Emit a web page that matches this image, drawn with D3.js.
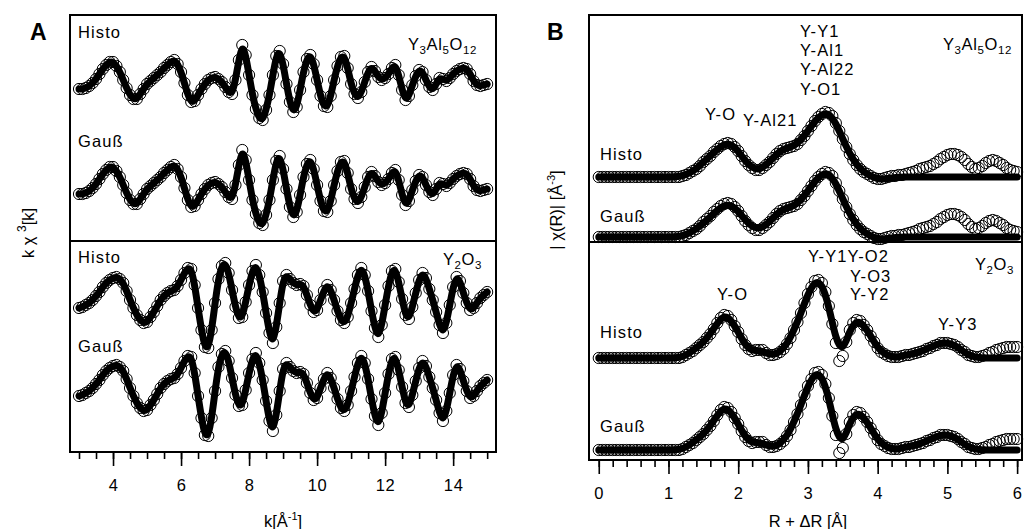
<!DOCTYPE html>
<html>
<head>
<meta charset="utf-8">
<script src="https://cdn.jsdelivr.net/npm/d3@7"></script>
<style>
body{margin:0;background:#fff}
text{font-family:"Liberation Sans",Arial,sans-serif;fill:#000}
</style>
</head>
<body>
<script>

// ---- panel A: k^3 chi(k), one data set per sample (Histo and Gauss fit the same data)
var kStart = 3, kStep = 0.1;
var yagK = [0.1,0.1,0.2,0.4,0.7,1.1,1.6,2.1,2.5,2.8,2.8,2.4,1.8,1.0,0.2,-0.5,-0.9,-0.9,-0.4,0.1,
  0.6,0.9,1.2,1.5,1.8,2.2,2.5,2.8,3.0,2.6,1.8,0.7,-0.5,-1.2,-1.1,-0.5,0.1,0.6,1.0,1.2,
  1.3,1.1,0.8,0.3,-0.2,-0.4,1.0,3.0,4.5,3.5,1.5,-0.5,-1.9,-2.8,-3.0,-2.0,-0.5,1.5,3.4,3.9,
  2.6,0.6,-1.2,-2.2,-1.7,0.0,1.8,3.1,3.5,2.6,1.0,-0.6,-1.6,-1.7,-0.6,1.0,2.4,3.3,3.4,2.2,
  0.6,-0.4,-0.8,-0.2,0.8,1.8,2.3,1.9,1.3,1.0,1.2,1.6,2.2,2.5,1.5,0.0,-1.0,-0.6,0.5,1.4,
  2.0,1.8,1.0,0.3,0.0,0.6,1.2,1.1,0.9,1.2,1.6,1.9,2.1,2.2,2.1,1.6,0.9,0.5,0.4,0.5,0.6];
var y2o3K = [-0.3,-0.2,0.0,0.2,0.5,0.9,1.3,1.8,2.2,2.5,2.7,2.8,2.6,2.2,1.4,0.5,-0.3,-1.0,-1.5,-1.8,
  -1.7,-1.2,-0.7,-0.1,0.5,0.9,1.2,1.4,1.5,1.9,2.5,3.2,3.7,3.6,2.0,-0.3,-2.5,-4.2,-4.3,-2.5,
  0.2,2.6,3.9,4.2,3.2,1.5,-0.2,-1.3,-1.2,0.3,2.0,3.4,4.0,3.0,1.3,-0.8,-2.8,-3.8,-2.2,0.2,
  2.4,3.0,2.6,2.2,2.0,2.1,1.9,1.0,0.0,-0.7,-0.5,0.5,1.4,2.0,1.5,0.5,-0.6,-1.5,-1.8,-1.2,
  0.2,1.6,3.0,3.7,3.0,1.4,-0.6,-2.3,-3.2,-2.0,0.0,1.9,3.4,3.6,2.3,0.6,-1.0,-1.4,-0.2,1.2,
  2.5,3.2,2.7,1.6,0.5,-0.7,-2.0,-2.8,-1.8,0.0,1.8,2.8,2.4,1.2,0.2,-0.5,-0.3,0.2,0.7,1.0,1.3];
var kLabels = ["Histo","Gauß","Histo","Gauß"];
var kOffsets = [36.2, 25.7, 14.7, 5.9];
var kTicks = [4,6,8,10,12,14];

// ---- panel B: |chi(R)|, measured data and the two fits
var rStep = 0.05;
var yagR = [0,0,0,0,0,0,0,0,0,0,0,0,0,0,0,0,0,0,0,0,0,0,0,
  0.0,0.1,0.2,0.4,0.6,0.8,1.1,1.5,1.8,2.1,2.5,2.8,3.1,3.3,3.4,3.3,3.0,2.6,2.1,1.6,1.2,0.9,0.7,0.7,0.9,
  1.2,1.5,1.9,2.3,2.6,2.8,2.9,3.0,3.1,3.3,3.7,4.1,4.6,5.1,5.6,6.0,6.3,6.5,6.4,6.1,5.4,4.6,3.8,3.0,2.3,
  1.7,1.2,0.8,0.5,0.3,0.1,-0.1,-0.2,-0.2,-0.1,0.0,0.1,0.1,0.2,0.2,0.3,0.4,0.5,0.6,0.8,0.9,1.0,1.1,1.3,
  1.5,1.8,2.0,2.2,2.3,2.3,2.2,2.0,1.7,1.3,1.0,0.8,0.9,1.1,1.4,1.6,1.7,1.6,1.4,1.2,0.9,0.7,0.6,0.5];
var y2o3R = [0,0,0,0,0,0,0,0,0,0,0,0,0,0,0,0,0,0,0,0,0,0,0,
  0.0,0.1,0.3,0.5,0.7,1.0,1.3,1.6,2.0,2.4,2.9,3.5,4.0,4.3,4.2,3.8,3.2,2.6,1.9,1.3,0.9,0.7,0.8,0.8,0.8,
  0.5,0.3,0.3,0.4,0.6,0.9,1.4,2.0,2.8,3.6,4.5,5.5,6.4,7.1,7.7,7.8,7.5,6.6,5.2,3.4,1.5,-0.3,0.2,1.6,2.8,
  3.5,3.8,3.7,3.3,2.8,2.2,1.6,1.0,0.6,0.4,0.2,0.1,0.1,0.1,0.2,0.3,0.3,0.4,0.5,0.6,0.7,0.9,1.0,1.2,
  1.3,1.5,1.5,1.5,1.4,1.3,1.1,0.8,0.6,0.3,0.2,0.1,0.1,0.2,0.3,0.5,0.6,0.8,0.9,1.0,1.1,1.1,1.1,1.1];
var fitStep = 0.1;
var yagHistoFit = [0,0,0,0,0,0,0,0,0,0,0,0,
  0.1,0.4,0.8,1.5,2.1,2.8,3.3,3.3,2.6,1.6,0.9,0.7,1.2,1.9,2.6,2.9,3.1,3.7,4.6,5.6,6.3,6.4,5.4,3.8,
  2.3,1.2,0.5,0.1,-0.2,-0.2,-0.1,0,0,0,0,0,0,0,0,0,0,0,0,0,0,0,0,0,0];
var yagGaussFit = [0,0,0,0,0,0,0,0,0,0,0,0,
  0.1,0.4,0.8,1.4,2.0,2.7,3.2,3.2,2.6,1.7,1.0,0.8,1.2,1.9,2.6,2.9,3.1,3.7,4.6,5.6,6.3,6.4,5.4,3.8,
  2.3,1.2,0.5,0.1,-0.2,-0.2,-0.1,0,0,0,0,0,0,0,0,0,0,0,0,0,0,0,0,0,0];
var y2o3HistoFit = [0,0,0,0,0,0,0,0,0,0,0,0,
  0.1,0.5,1.0,1.6,2.4,3.5,4.3,3.8,2.6,1.3,0.7,0.8,0.5,0.3,0.6,1.4,2.8,4.5,6.4,7.7,7.5,5.2,1.8,0.6,
  2.8,3.8,3.3,2.2,1.0,0.4,0.1,0.1,0.3,0.4,0.6,0.9,1.2,1.5,1.5,1.3,0.8,0.3,0.1,0.0,0,0,0,0,0];
var y2o3GaussFit = [0,0,0,0,0,0,0,0,0,0,0,0,
  0.1,0.5,1.0,1.6,2.4,3.5,4.3,3.8,2.6,1.3,0.7,0.8,0.5,0.3,0.6,1.4,2.8,4.5,6.4,7.7,7.5,5.2,1.8,0.6,
  2.8,3.8,3.3,2.2,1.0,0.4,0.1,0.1,0.3,0.4,0.6,0.9,1.2,1.5,1.5,1.3,0.8,0.3,0.1,0.0,0,0,0,0,0];
var rLabels = ["Histo","Gauß","Histo","Gauß"];
var rOffsets = [28.3, 22.3, 10.2, 1.0];
var rTicks = [0,1,2,3,4,5,6];


var svg = d3.select("body").append("svg")
            .attr("width",1024)
            .attr("height",529);

var xA = d3.scaleLinear().domain([2.735,15.26]).range([70,496]);
var yA = d3.scaleLinear().domain([0,43.7]).range([452,15]);
var xB = d3.scaleLinear().domain([-0.14,6.07]).range([589,1022]);
var yB = d3.scaleLinear().domain([0,44.5]).range([460,15]);

function series(vals, start, step){
  return vals.map(function(v,i){ return {x: start + i*step, y: v}; });
}

// draws one set of circles plus the fit line on top
function drawCurve(g, x, y, data, fit, off){
  g.append("g").selectAll("circle")
   .data(data)
   .enter().append("circle")
   .attr("cx",function(d){return x(d.x);})
   .attr("cy",function(d){return y(d.y+off);})
   .attr("r",5.6)
   .style("fill","none")
   .style("stroke","#000")
   .style("stroke-width",1);
  var line = d3.line()
               .x(function(d){return x(d.x);})
               .y(function(d){return y(d.y+off);})
               .curve(d3.curveBasis);
  g.append("path")
   .attr("d",line(fit))
   .style("fill","none")
   .style("stroke","#000")
   .style("stroke-width",7)
   .style("stroke-linecap","round");
}

function lbl(x, y, t, anchor){
  return svg.append("text")
            .attr("x",x).attr("y",y)
            .attr("text-anchor",anchor || "start")
            .style("font-size","16.5px")
            .style("letter-spacing","1.1px")
            .text(t);
}

// formula with subscripts, e.g. [["Y","3"],["Al","5"],["O","12"]]
function formula(x, y, parts){
  var t = svg.append("text").attr("x",x).attr("y",y)
             .style("font-size","16.5px")
             .style("letter-spacing","0.6px");
  parts.forEach(function(p,i){
    t.append("tspan").text(p[0]).attr("dy", i==0 ? 0 : -4);
    t.append("tspan").text(p[1]).style("font-size","11.5px").attr("dy",4);
  });
  return t;
}

// ---------- panel A
var gA = svg.append("g");
var yagKs = series(yagK, kStart, kStep), y2o3Ks = series(y2o3K, kStart, kStep);
[yagKs, yagKs, y2o3Ks, y2o3Ks].forEach(function(s,i){
  drawCurve(gA, xA, yA, s, s, kOffsets[i]);
});

svg.append("rect").attr("x",70).attr("y",15).attr("width",426).attr("height",437)
   .style("fill","none").style("stroke","#000").style("stroke-width",2);
svg.append("line").attr("x1",70).attr("x2",496).attr("y1",241).attr("y2",241)
   .style("stroke","#000").style("stroke-width",2);

svg.append("g").attr("transform","translate(0,452)")
   .call(d3.axisBottom(xA).tickValues(d3.range(3,15.01,0.5)).tickSize(7).tickFormat(""));
svg.append("g").attr("transform","translate(0,452)")
   .call(d3.axisBottom(xA).tickValues(kTicks).tickSize(14).tickPadding(13).tickFormat(d3.format("d")));

kLabels.forEach(function(t,i){ lbl(78,[38,147,263,352][i],t); });
formula(408,50,[["Y","3"],["Al","5"],["O","12"]]);
formula(443,265,[["Y","2"],["O","3"]]);

var tkA = svg.append("text").attr("x",283).attr("y",527).attr("text-anchor","middle")
             .style("font-size","16.5px");
tkA.append("tspan").text("k[Å");
tkA.append("tspan").text("-1").style("font-size","11px").attr("dy",-7);
tkA.append("tspan").text("]").attr("dy",7);

var tyA = svg.append("text").attr("transform","translate(34,233) rotate(-90)")
             .attr("text-anchor","middle").style("font-size","16.5px");
tyA.append("tspan").text("k χ ");
tyA.append("tspan").text("3").style("font-size","12px").attr("dy",-8);
tyA.append("tspan").text("[k]").attr("dy",8);

svg.append("text").attr("x",30).attr("y",40).style("font-size","23px")
   .style("font-weight","bold").text("A");

// ---------- panel B
var gB = svg.append("g");
var yagRs = series(yagR, 0, rStep), y2o3Rs = series(y2o3R, 0, rStep);
var fitsB = [yagHistoFit, yagGaussFit, y2o3HistoFit, y2o3GaussFit];
[yagRs, yagRs, y2o3Rs, y2o3Rs].forEach(function(s,i){
  drawCurve(gB, xB, yB, s, series(fitsB[i], 0, fitStep), rOffsets[i]);
});

svg.append("rect").attr("x",589).attr("y",15).attr("width",433).attr("height",445)
   .style("fill","none").style("stroke","#000").style("stroke-width",2);
svg.append("line").attr("x1",589).attr("x2",1022).attr("y1",242).attr("y2",242)
   .style("stroke","#000").style("stroke-width",2);

svg.append("g").attr("transform","translate(0,460)")
   .call(d3.axisBottom(xB).tickValues(d3.range(0,6.01,0.2)).tickSize(7).tickFormat(""));
svg.append("g").attr("transform","translate(0,460)")
   .call(d3.axisBottom(xB).tickValues(rTicks).tickSize(14).tickPadding(13).tickFormat(d3.format("d")));

rLabels.forEach(function(t,i){ lbl(600,[160,222,338,432][i],t); });
lbl(705,120,"Y-O"); lbl(743,126,"Y-Al21");
lbl(800,37,"Y-Y1"); lbl(800,56,"Y-Al1"); lbl(800,75,"Y-Al22"); lbl(800,95,"Y-O1");
formula(943,50,[["Y","3"],["Al","5"],["O","12"]]);
lbl(717,300,"Y-O");
lbl(808,262,"Y-Y1Y-O2"); lbl(850,282,"Y-O3"); lbl(850,300,"Y-Y2");
lbl(938,330,"Y-Y3");
formula(975,270,[["Y","2"],["O","3"]]);

svg.append("text").attr("x",808).attr("y",527).attr("text-anchor","middle")
   .style("font-size","16.5px").text("R + ΔR [Å]");

var tyB = svg.append("text").attr("transform","translate(562,210) rotate(-90)")
             .attr("text-anchor","middle").style("font-size","16.5px");
tyB.append("tspan").text("| χ(R)| [Å");
tyB.append("tspan").text("-3").style("font-size","11px").attr("dy",-7);
tyB.append("tspan").text("]").attr("dy",7);

svg.append("text").attr("x",547).attr("y",40).style("font-size","23px")
   .style("font-weight","bold").text("B");

// axis styling
svg.selectAll(".domain").remove();
svg.selectAll(".tick line").style("stroke","#000").style("stroke-width",1.6);
svg.selectAll(".tick text").style("font-size","16.5px").style("letter-spacing","0.6px")
   .style("font-family","'Liberation Sans',Arial,sans-serif");

</script>
</body>
</html>
